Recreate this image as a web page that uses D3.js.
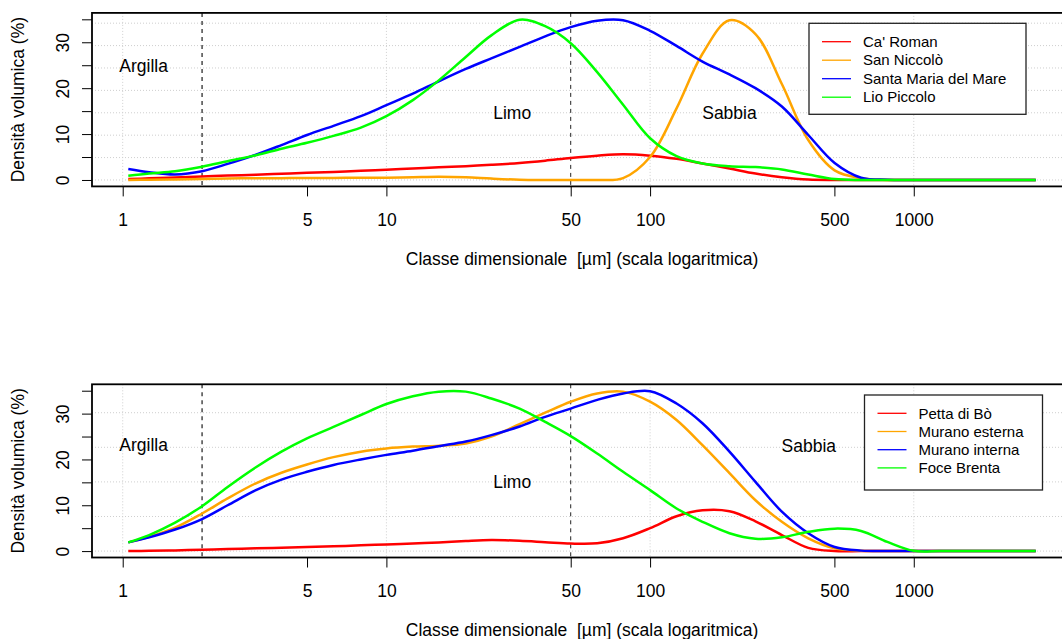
<!DOCTYPE html>
<html>
<head>
<meta charset="utf-8">
<script src="https://cdn.jsdelivr.net/npm/d3@7"></script>
<style>
  body { margin: 0; background: #fff; }
  text { font-family: "Liberation Sans", Arial, Helvetica, sans-serif; fill: #000; }
</style>
</head>
<body>
<div id="container"></div>
<script>
/* DATA */
// size classes in µm (log axis)
const sizes = [1.05, 1.26, 1.58, 2, 2.5, 3.2, 4, 5, 6.3, 8, 10, 12.6, 15.8, 20, 25, 32, 40, 50, 63, 79,
  100, 126, 158, 200, 251, 316, 398, 501, 631, 794, 1000, 1259, 1585, 1995, 2512, 2900];

// top panel
const caRoman = [0.2, 0.35, 0.55, 0.75, 0.95, 1.15, 1.35, 1.55, 1.75, 2.0, 2.25, 2.5, 2.75, 3.0, 3.3, 3.7, 4.2, 4.8, 5.3, 5.6,
  5.3, 4.6, 3.6, 2.5, 1.4, 0.6, 0.1, 0, 0, 0, 0, 0, 0, 0, 0, 0];
const sanNiccolo = [0, 0.05, 0.1, 0.2, 0.3, 0.4, 0.4, 0.45, 0.45, 0.5, 0.5, 0.6, 0.7, 0.6, 0.3, 0.05, 0, 0, 0, 0.4,
  5.0, 15.6, 27.5, 34.8, 31.8, 20.9, 8.7, 2.1, 0.4, 0, 0, 0, 0, 0, 0, 0];
const santaMaria = [2.4, 1.7, 1.2, 1.9, 3.5, 5.5, 7.6, 9.8, 11.8, 13.9, 16.3, 18.8, 21.5, 24.2, 26.5, 29.0, 31.3, 33.3, 34.7, 34.8,
  32.5, 29.2, 25.8, 23.0, 20.0, 16.0, 9.8, 3.7, 0.5, 0.05, 0, 0, 0, 0, 0, 0];
const lioPiccolo = [0.9, 1.4, 1.9, 2.9, 4.1, 5.4, 6.8, 8.1, 9.6, 11.4, 13.9, 17.4, 21.7, 26.8, 31.5, 34.9, 33.5, 29.8, 23.5, 16.4,
  9.1, 5.2, 3.6, 3.0, 2.8, 2.3, 1.2, 0.2, 0, 0, 0, 0, 0, 0, 0, 0];

// bottom panel
const pettaDiBo = [0, 0.05, 0.15, 0.3, 0.45, 0.6, 0.75, 0.9, 1.05, 1.25, 1.45, 1.65, 1.9, 2.2, 2.4, 2.25, 1.95, 1.65, 1.7, 2.8,
  5.0, 7.6, 8.9, 8.7, 6.5, 3.5, 0.7, 0, 0, 0, 0, 0, 0, 0, 0, 0];
const muranoEsterna = [1.9, 3.1, 5.1, 8.2, 11.5, 14.8, 17.1, 18.9, 20.5, 21.7, 22.4, 22.8, 23.0, 23.5, 25.0, 27.7, 30.2, 32.6, 34.4, 34.8,
  32.6, 28.6, 23.1, 17.0, 11.1, 6.4, 2.8, 0.6, 0.1, 0, 0, 0, 0, 0, 0, 0];
const muranoInterna = [1.9, 3.0, 4.7, 7.0, 10.0, 13.3, 15.6, 17.3, 18.8, 20.0, 21.0, 21.9, 22.9, 23.9, 25.3, 27.2, 29.3, 31.1, 33.0, 34.4,
  34.9, 32.2, 27.9, 21.7, 15.1, 8.6, 3.9, 0.9, 0.1, 0, 0, 0, 0, 0, 0, 0];
const foceBrenta = [1.9, 3.5, 6.2, 9.8, 14.0, 18.3, 21.7, 24.6, 27.1, 29.7, 32.1, 33.8, 34.8, 34.8, 33.3, 31.1, 28.2, 25.1, 21.3, 17.3,
  13.3, 9.3, 6.4, 3.9, 2.7, 3.0, 4.2, 4.9, 4.4, 2.0, 0.05, 0, 0, 0, 0, 0];

const seriesColors = ["#FF0000", "#FFA500", "#0000FF", "#00FF00"];
const topNames = ["Ca' Roman", "San Niccolò", "Santa Maria del Mare", "Lio Piccolo"];
const bottomNames = ["Petta di Bò", "Murano esterna", "Murano interna", "Foce Brenta"];

const xTicks = [1, 5, 10, 50, 100, 500, 1000];
const xGrid = [1, 10, 100, 1000];
const yTicks = [0, 5, 10, 15, 20, 25, 30, 35];
const gridTop = [0, 4.88, 9.76, 14.64, 19.52, 24.4, 29.28, 34.16];
const gridBottom = [0, 7.55, 15.1, 22.65, 30.2];
const boundaries = [2, 50]; // argilla / limo / sabbia
const topLabels = [["Argilla", 1.2, 24.9], ["Limo", 30, 14.6], ["Sabbia", 200, 14.6]];
const bottomLabels = [["Argilla", 1.2, 23.1], ["Limo", 30, 15], ["Sabbia", 400, 22.9]];

/* CONSTANTS */
const width = 1062;
const height = 639;
const left = 92, right = 1072;
const fs = 17.5;

const svg = d3.select("#container")
  .append("svg")
  .attr("width", width)
  .attr("height", height);

// R-style 4% axis expansion
const lx = d3.extent(sizes).map(Math.log10);
const px = 0.04 * (lx[1] - lx[0]);
const xScale = d3.scaleLog()
  .domain([10 ** (lx[0] - px), 10 ** (lx[1] + px)])
  .range([left, right]);
const yDomain = [0 - 0.04 * 35, 35 + 0.04 * 35];

function drawPanel(top, bottom, series, names, labels, grid, leg) {
  const yScale = d3.scaleLinear().domain(yDomain).range([bottom, top]);
  const g = svg.append("g");

  // grid
  g.selectAll(".hgrid").data(grid).join("line")
    .attr("x1", left).attr("x2", right)
    .attr("y1", d => yScale(d)).attr("y2", d => yScale(d))
    .attr("stroke", "#cfcfcf").attr("stroke-dasharray", "1,2");
  g.selectAll(".vgrid").data(xGrid).join("line")
    .attr("x1", d => xScale(d)).attr("x2", d => xScale(d))
    .attr("y1", top).attr("y2", bottom)
    .attr("stroke", "#cfcfcf").attr("stroke-dasharray", "1,2");

  // class boundaries
  g.selectAll(".bound").data(boundaries).join("line")
    .attr("x1", d => xScale(d)).attr("x2", d => xScale(d))
    .attr("y1", top).attr("y2", bottom)
    .attr("stroke", (d, i) => i === 0 ? "#555" : "#222")
    .attr("stroke-width", (d, i) => i === 0 ? 1.6 : 1)
    .attr("stroke-dasharray", "4,4");

  // curves
  const line = d3.line()
    .x((d, i) => xScale(sizes[i]))
    .y(d => yScale(d))
    .curve(d3.curveCatmullRom.alpha(0.5));
  g.selectAll(".curve").data(series).join("path")
    .attr("fill", "none")
    .attr("stroke", (d, i) => seriesColors[i])
    .attr("stroke-width", 2.5)
    .attr("d", line);

  // text labels
  g.selectAll(".lab").data(labels).join("text")
    .attr("x", d => xScale(d[1]))
    .attr("y", d => yScale(d[2]))
    .attr("dy", "0.35em")
    .attr("text-anchor", "middle")
    .style("font-size", fs + "px")
    .text(d => d[0]);

  // legend
  const lg = g.append("g").attr("transform", `translate(${leg.x}, ${leg.y})`);
  lg.append("rect")
    .attr("width", leg.w).attr("height", leg.h)
    .attr("fill", "#fff").attr("stroke", "#222").attr("stroke-width", 1.3);
  const rows = lg.selectAll(".row").data(names).join("g")
    .attr("transform", (d, i) => `translate(0, ${leg.r0 + i * leg.step})`);
  rows.append("line")
    .attr("x1", 13).attr("x2", 42)
    .attr("stroke", (d, i) => seriesColors[i]).attr("stroke-width", 1.3);
  rows.append("text")
    .attr("x", 54).attr("dy", "0.35em")
    .style("font-size", "15px")
    .text(d => d);

  // box
  g.append("rect")
    .attr("x", left).attr("y", top)
    .attr("width", right - left).attr("height", bottom - top)
    .attr("fill", "none").attr("stroke", "#000").attr("stroke-width", 1.8);

  // y axis
  const yAxis = d3.axisLeft(yScale).tickValues(yTicks).tickSize(10)
    .tickFormat(d => d % 10 === 0 ? d : "");
  const ya = g.append("g").attr("transform", `translate(${left}, 0)`).call(yAxis);
  ya.select(".domain").remove();
  ya.selectAll("text")
    .attr("transform", "rotate(-90)")
    .attr("x", 0).attr("y", -29).attr("dy", "0.35em")
    .attr("text-anchor", "middle")
    .attr("fill", "#000")
    .style("font-size", fs + "px")
    .style("font-family", "'Liberation Sans', Arial, sans-serif");

  // x axis
  const xAxis = d3.axisBottom(xScale).tickValues(xTicks).tickSize(10).tickFormat(d3.format("d"));
  const xa = g.append("g").attr("transform", `translate(0, ${bottom})`).call(xAxis);
  xa.select(".domain").remove();
  xa.selectAll("text")
    .attr("y", 33.6).attr("dy", "0.35em")
    .attr("fill", "#000")
    .style("font-size", fs + "px")
    .style("font-family", "'Liberation Sans', Arial, sans-serif");

  // axis titles
  g.append("text")
    .attr("x", 582).attr("y", bottom + 72).attr("dy", "0.35em")
    .attr("text-anchor", "middle")
    .style("font-size", fs + "px")
    .style("white-space", "pre")
    .text("Classe dimensionale  [µm] (scala logaritmica)");
  g.append("text")
    .attr("transform", `translate(18, ${(top + bottom) / 2}) rotate(-90)`)
    .attr("dy", "0.35em")
    .attr("text-anchor", "middle")
    .style("font-size", fs + "px")
    .text("Densità volumica (%)");
}

drawPanel(12.9, 186.4, [caRoman, sanNiccolo, santaMaria, lioPiccolo], topNames, topLabels, gridTop,
  { x: 809, y: 23.3, w: 217, h: 91, r0: 18.4, step: 18.5 });
drawPanel(384.3, 557.5, [pettaDiBo, muranoEsterna, muranoInterna, foceBrenta], bottomNames, bottomLabels, gridBottom,
  { x: 864.5, y: 395, w: 178, h: 95, r0: 18.3, step: 18.2 });
</script>
</body>
</html>
